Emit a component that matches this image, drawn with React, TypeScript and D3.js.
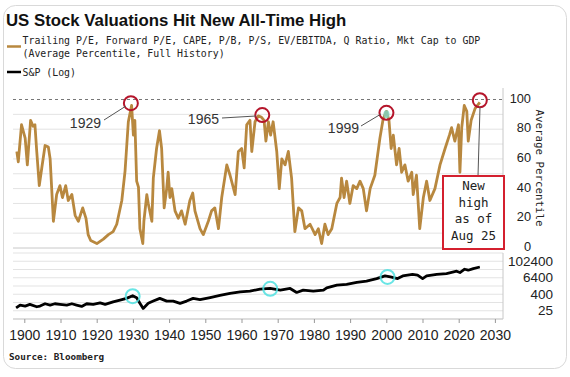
import React from "react";
import * as d3 from "d3";

const pctYears = [1897.8,1898.2,1899.1,1900.1,1900.7,1901.6,1902.3,1902.8,1903.3,1904.0,1904.7,1905.6,1906.5,1907.0,1907.9,1908.8,1909.7,1910.4,1911.3,1912.0,1913.0,1913.9,1914.8,1916.0,1916.9,1917.5,1918.2,1919.9,1921.7,1923.1,1924.4,1925.4,1926.8,1927.7,1928.6,1929.5,1930.0,1930.4,1930.9,1931.4,1931.8,1932.6,1932.9,1933.7,1934.1,1935.1,1935.5,1936.4,1937.2,1937.8,1938.5,1939.2,1939.6,1940.1,1940.6,1941.5,1942.4,1943.3,1944.3,1945.6,1946.4,1947.0,1948.4,1949.3,1950.7,1951.6,1952.5,1953.5,1954.4,1955.8,1956.7,1958.1,1959.0,1959.9,1960.6,1961.3,1962.2,1962.7,1963.6,1964.5,1965.4,1966.1,1966.6,1967.3,1967.9,1968.6,1969.6,1970.3,1971.0,1971.9,1972.8,1973.7,1974.6,1975.6,1976.5,1977.4,1978.8,1980.2,1981.1,1982.0,1982.9,1983.8,1984.8,1986.2,1987.1,1987.5,1988.2,1988.9,1989.8,1990.7,1991.7,1992.6,1993.5,1994.4,1995.4,1996.7,1998.1,1999.0,1999.9,2000.6,2001.2,2001.8,2002.7,2003.4,2004.1,2005.0,2005.9,2006.9,2007.3,2008.2,2009.1,2010.1,2011.0,2011.9,2013.3,2014.7,2016.1,2017.3,2017.9,2018.8,2019.8,2020.2,2020.7,2021.4,2022.1,2022.5,2023.3,2024.4,2025.7];
const pctValues = [65,58,83,74,56,86,82,83,65,42,54,69,68,60,18,36,42,34,42,32,36,22,18,27,20,9,5,3,6,9,11,16,32,52,85,96,76,86,45,41,13,3,18,36,30,18,47,67,79,67,27,40,51,34,40,25,20,25,16,32,37,25,13,9,18,25,27,13,34,56,49,36,65,67,54,83,86,65,85,89,88,86,72,85,76,85,65,40,60,56,65,47,11,27,25,13,16,9,13,3,16,9,13,30,34,47,34,45,30,42,40,45,40,25,40,49,74,87,92,86,67,76,56,67,51,56,45,51,36,49,13,34,45,32,40,56,67,76,81,72,83,51,81,96,92,72,86,94,98];

const spxYears = [1897.6,1898.7,1900.1,1901.4,1903.3,1904.2,1905.6,1907.0,1908.3,1909.7,1911.6,1913.0,1914.3,1915.7,1917.1,1918.9,1920.8,1922.2,1924.4,1926.3,1928.1,1929.8,1930.9,1931.8,1932.7,1934.1,1935.5,1937.3,1939.2,1941.0,1942.9,1944.7,1946.5,1948.4,1951.2,1953.9,1956.7,1959.5,1962.2,1965.0,1967.8,1970.6,1973.3,1975.1,1976.9,1979.7,1982.5,1983.4,1986.2,1988.9,1991.7,1994.4,1997.2,1999.5,2001.0,2003.0,2004.4,2007.1,2008.5,2009.9,2011.0,2013.8,2016.5,2019.3,2020.2,2021.5,2022.5,2023.9,2025.7];
const spxValues = [41,65,55,73,49,55,81,65,81,73,65,81,65,52,81,73,95,73,112,150,200,310,220,87,37,87,127,200,127,127,87,127,200,160,230,330,460,600,676,945,1060,800,1060,540,800,676,800,1180,1845,2100,2900,3600,5600,8700,7400,5600,8700,11100,10000,5600,8700,11100,13000,19200,15300,26800,22700,30000,39000];

const xTicks = [1900,1910,1920,1930,1940,1950,1960,1970,1980,1990,2000,2010,2020,2030];
const pctTicks = [0,20,40,60,80,100];
const pctGrid = [10,20,30,40,50,60,70,80,90];
const spxTicks = [25,400,6400,102400];
const spxGrid = [25,100,400,1600,6400,25600,102400,409600];

const redCircles: [number, number][] = [[1929.3, 97.5], [1965.6, 89.5], [1999.9, 91], [2025.7, 99.5]];
const cyanCircles: [number, number][] = [[1929.8, 290], [1967.8, 1000], [2000.2, 7400]];

const LEFT = 13, RIGHT = 503;
const GOLD = "#B8883F";
const MONO = "'DejaVu Sans Mono', 'Liberation Mono', monospace";
const SANS = "'Liberation Sans', Arial, sans-serif";

export default function App() {
  const x = d3.scaleLinear().domain([1900, 2030]).range([24.8, 495.4]);
  const yP = d3.scaleLinear().domain([0, 100]).range([248, 99.5]);
  const yS = d3.scaleLog().domain([6.25, 409600]).range([319, 253]);

  const pctLine = d3.line<number>().x((_, i) => x(pctYears[i])).y((d) => yP(d)).curve(d3.curveLinear)(pctValues) || "";
  const spxLine = d3.line<number>().x((_, i) => x(spxYears[i])).y((d) => yS(d))(spxValues) || "";

  return (
    <svg width={570} height={377} style={{ position: "absolute", left: 0, top: 0, background: "#fff" }}>
      <rect x={3.5} y={5.5} width={563} height={363} rx={12} fill="#fff" stroke="#d9d9d9" />
      <text x={6} y={26} fontFamily={SANS} fontWeight="bold" fontSize={16.8} fill="#111">US Stock Valuations Hit New All-Time High</text>
      <line x1={7} x2={21} y1={46.5} y2={46.5} stroke={GOLD} strokeWidth={2.5} />
      <text x={22.5} y={44} fontFamily={MONO} fontSize={9.9} fill="#222">Trailing P/E, Forward P/E, CAPE, P/B, P/S, EV/EBITDA, Q Ratio, Mkt Cap to GDP</text>
      <text x={22.5} y={57} fontFamily={MONO} fontSize={9.9} fill="#222">(Average Percentile, Full History)</text>
      <line x1={7} x2={21} y1={72} y2={72} stroke="#000" strokeWidth={2.5} />
      <text x={22.5} y={75.5} fontFamily={MONO} fontSize={9.9} fill="#222">S&amp;P (Log)</text>

      {pctGrid.map((v) => (
        <line key={"pg" + v} x1={LEFT} x2={RIGHT} y1={yP(v)} y2={yP(v)} stroke="#e3e3e3" strokeWidth={1} />
      ))}
      <line x1={LEFT} x2={RIGHT} y1={yP(100)} y2={yP(100)} stroke="#777" strokeWidth={1} strokeDasharray="3,3" />
      <line x1={LEFT} x2={RIGHT} y1={yP(0)} y2={yP(0)} stroke="#c8c8c8" strokeWidth={1} />
      <line x1={RIGHT} x2={RIGHT} y1={88} y2={248} stroke="#c8c8c8" strokeWidth={1} />

      {spxGrid.map((v) => (
        <line key={"sg" + v} x1={LEFT} x2={RIGHT} y1={yS(v)} y2={yS(v)} stroke="#e3e3e3" strokeWidth={1} />
      ))}
      <line x1={LEFT} x2={RIGHT} y1={319} y2={319} stroke="#bbb" strokeWidth={1} />
      <line x1={RIGHT} x2={RIGHT} y1={253} y2={319} stroke="#c8c8c8" strokeWidth={1} />
      {xTicks.map((t) => (
        <g key={"xt" + t}>
          <line x1={x(t)} x2={x(t)} y1={319} y2={323} stroke="#999" />
          <text x={x(t)} y={340} textAnchor="middle" fontFamily={SANS} fontSize={14} fill="#222">{t}</text>
        </g>
      ))}

      {pctTicks.map((v) => (
        <text key={"pt" + v} x={531} y={yP(v) + 3} textAnchor="end" fontFamily={SANS} fontSize={12.8} fill="#222">{v}</text>
      ))}
      <text transform="translate(536,168) rotate(90)" textAnchor="middle" fontFamily={MONO} fontSize={10.8} fill="#222">Average Percentile</text>
      {spxTicks.map((v) => (
        <text key={"st" + v} x={553} y={yS(v) + 4.5} textAnchor="end" fontFamily={SANS} fontSize={13.5} fill="#222">{v}</text>
      ))}

      <path d={pctLine} fill="none" stroke={GOLD} strokeWidth={2.8} strokeLinejoin="round" />
      <path d={spxLine} fill="none" stroke="#000" strokeWidth={2.8} strokeLinejoin="round" />

      <ellipse cx={x(1999.9)} cy={yP(90)} rx={3} ry={4} fill="#7fd6c6" opacity={0.8} />
      {redCircles.map(([yr, v], i) => (
        <circle key={"rc" + i} cx={x(yr)} cy={yP(v)} r={7} fill="none" stroke="#B5152B" strokeWidth={2} />
      ))}
      {cyanCircles.map(([yr, v], i) => (
        <circle key={"cc" + i} cx={x(yr)} cy={yS(v)} r={7} fill="none" stroke="#4fe0e0" strokeWidth={2} opacity={0.85} />
      ))}

      <line x1={104} y1={120} x2={126} y2={106} stroke="#555" strokeWidth={1} />
      <text x={101} y={128} textAnchor="end" fontFamily={SANS} fontSize={14} fill="#333">1929</text>
      <line x1={222} y1={118} x2={256} y2={116} stroke="#555" strokeWidth={1} />
      <text x={219} y={124} textAnchor="end" fontFamily={SANS} fontSize={14} fill="#333">1965</text>
      <line x1={361} y1={126} x2={381} y2={114} stroke="#555" strokeWidth={1} />
      <text x={359} y={133} textAnchor="end" fontFamily={SANS} fontSize={14} fill="#333">1999</text>

      <line x1={478} y1={176} x2={480} y2={107} stroke="#555" strokeWidth={1} />
      <rect x={443} y={176} width={61} height={73} fill="#fff" stroke="#D4202F" strokeWidth={2} />
      {["New", "high", "as of", "Aug 25"].map((s, i) => (
        <text key={"nh" + i} x={473.5} y={190 + i * 16.5} textAnchor="middle" fontFamily={MONO} fontSize={12.5} fill="#222">{s}</text>
      ))}

      <text x={9} y={359.5} fontFamily={MONO} fontWeight="bold" fontSize={9.3} fill="#222">Source: Bloomberg</text>
    </svg>
  );
}
